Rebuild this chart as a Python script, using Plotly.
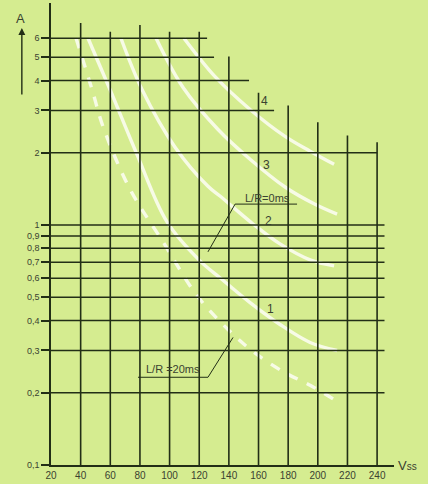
import math
import plotly.graph_objects as go

# ---- data ----
x_ticks = [20, 40, 60, 80, 100, 120, 140, 160, 180, 200, 220, 240]
x_tick_labels = [str(v) for v in x_ticks]
y_ticks = [0.1, 0.2, 0.3, 0.4, 0.5, 0.6, 0.7, 0.8, 0.9, 1, 2, 3, 4, 5, 6]
y_tick_labels = ["0,1", "0,2", "0,3", "0,4", "0,5", "0,6", "0,7", "0,8", "0,9",
                 "1", "2", "3", "4", "5", "6"]

# staircase grid: vertical lines (V) and their top ends (A)
v_grid_x = [40, 60, 80, 100, 120, 140, 160, 180, 200, 220, 240]
v_grid_top = [6.95, 6.38, 6.82, 6.38, 6.38, 5.03, 3.56, 3.15, 2.68, 2.36, 2.21]
# horizontal lines (A) and their right ends (V)
h_grid_y = [0.2, 0.3, 0.4, 0.5, 0.6, 0.7, 0.8, 0.9, 1, 2, 3, 4, 5, 6]
h_grid_right = [245, 245, 245, 245, 245, 245, 245, 245, 245, 240, 170.5, 153.6, 130, 125.3]

# curves (V, A)
c1d_v = [36.9, 47.7, 55.1, 73.3, 95.6, 118.5, 140.8, 156.3, 176.5, 194.8, 213.0]
c1d_a = [6.0, 3.67, 2.57, 1.41, 0.85, 0.508, 0.360, 0.297, 0.245, 0.215, 0.184]
c1_v = [45.0, 59.8, 78.0, 98.3, 120.5, 134.0, 154.3, 174.5, 194.8, 213.0]
c1_a = [6.0, 3.67, 1.97, 1.03, 0.709, 0.603, 0.475, 0.385, 0.324, 0.300]
c2_v = [67.2, 81.4, 103.7, 125.9, 134.0, 156.3, 174.5, 194.8, 211.0]
c2_a = [6.0, 3.67, 2.11, 1.45, 1.32, 1.01, 0.834, 0.716, 0.676]
c3_v = [90.9, 109.1, 132.7, 154.3, 177.9, 198.1, 213.0]
c3_a = [6.0, 3.74, 2.50, 1.88, 1.44, 1.22, 1.11]
c4_v = [109.7, 130.7, 154.3, 177.9, 194.8, 211.0]
c4_a = [6.0, 4.15, 3.03, 2.34, 2.03, 1.79]

curve_names = ["4", "3", "2", "1"]
curve_label_v = [163.7, 165.7, 166.4, 168.4]
curve_label_a = [3.30, 1.77, 1.04, 0.448]

# L/R callouts: underline + pointer (V, A)
lr0_v = [186.0, 144.2, 125.9]
lr0_a = [1.222, 1.222, 0.773]
lr0_text_v, lr0_text_a = 166.0, 1.30
lr20_v = [78.7, 125.9, 142.8]
lr20_a = [0.232, 0.232, 0.340]
lr20_text_v, lr20_text_a = 102.0, 0.252

BG = "#d5ec90"
GRID = "#222e16"
CURVE = "rgba(250,252,238,0.92)"
TXT = "#3a4230"
FONT = "Liberation Sans"

fig = go.Figure()

# curves
for v, a, dash in [(c1d_v, c1d_a, "dash"), (c1_v, c1_a, "solid"), (c2_v, c2_a, "solid"),
                   (c3_v, c3_a, "solid"), (c4_v, c4_a, "solid")]:
    fig.add_trace(go.Scatter(x=v, y=a, mode="lines", line=dict(color=CURVE, width=3.4,
                                                              shape="spline", dash=dash),
                             hoverinfo="skip", showlegend=False))

# grid lines
gx, gy = [], []
for xv, top in zip(v_grid_x, v_grid_top):
    gx += [xv, xv, None]
    gy += [0.1, top, None]
for yv, right in zip(h_grid_y, h_grid_right):
    gx += [20, right, None]
    gy += [yv, yv, None]
fig.add_trace(go.Scatter(x=gx, y=gy, mode="lines", line=dict(color=GRID, width=1.6),
                         hoverinfo="skip", showlegend=False))

# callout lines
for v, a in [(lr0_v, lr0_a), (lr20_v, lr20_a)]:
    fig.add_trace(go.Scatter(x=v, y=a, mode="lines", line=dict(color=GRID, width=1),
                             hoverinfo="skip", showlegend=False))

ann = []
for name, v, a in zip(curve_names, curve_label_v, curve_label_a):
    ann.append(dict(x=v, y=math.log10(a), xref="x", yref="y", text=name, showarrow=False,
                    font=dict(family=FONT, size=12, color=TXT)))
ann.append(dict(x=lr0_text_v, y=math.log10(lr0_text_a), xref="x", yref="y", text="L/R=0ms",
                showarrow=False, font=dict(family=FONT, size=11, color=TXT)))
ann.append(dict(x=lr20_text_v, y=math.log10(lr20_text_a), xref="x", yref="y", text="L/R =20ms",
                showarrow=False, font=dict(family=FONT, size=11, color=TXT)))
# axis titles
ann.append(dict(x=-0.09, y=0.988, xref="paper", yref="paper", text="A", showarrow=False,
                font=dict(family=FONT, size=13, color=TXT), xanchor="center", yanchor="top"))
ann.append(dict(x=-0.085, y=0.946, xref="paper", yref="paper", text="", showarrow=True,
                ax=0, ay=68, arrowhead=2, arrowsize=1, arrowwidth=1.4, arrowcolor=GRID))
ann.append(dict(x=1.0, y=0.0, xref="paper", yref="paper", xshift=2,
                text="V<span style='font-size:10px'>ss</span>", showarrow=False,
                xanchor="left", yanchor="middle", font=dict(family=FONT, size=13, color=TXT)))

fig.update_layout(
    width=428, height=484,
    margin=dict(l=51, r=34, t=3, b=17),
    paper_bgcolor=BG, plot_bgcolor=BG,
    showlegend=False,
    annotations=ann,
    xaxis=dict(range=[20, 251.4], tickvals=x_ticks, ticktext=x_tick_labels,
               showgrid=False, zeroline=False, showline=True, linecolor=GRID, linewidth=1.5,
               ticks="", ticklen=0,
               tickfont=dict(family=FONT, size=10, color=TXT)),
    yaxis=dict(type="log", range=[-1, 0.925], tickvals=y_ticks, ticktext=y_tick_labels,
               showgrid=False, zeroline=False, showline=True, linecolor=GRID, linewidth=1.5,
               ticks="outside", ticklen=8, tickcolor=GRID, tickwidth=1.5,
               tickfont=dict(family=FONT, size=9, color=TXT)),
)

fig.write_html("out.html", config={"displayModeBar": False},
               post_script="document.body.style.margin='0';document.body.style.background='" + BG + "';")
